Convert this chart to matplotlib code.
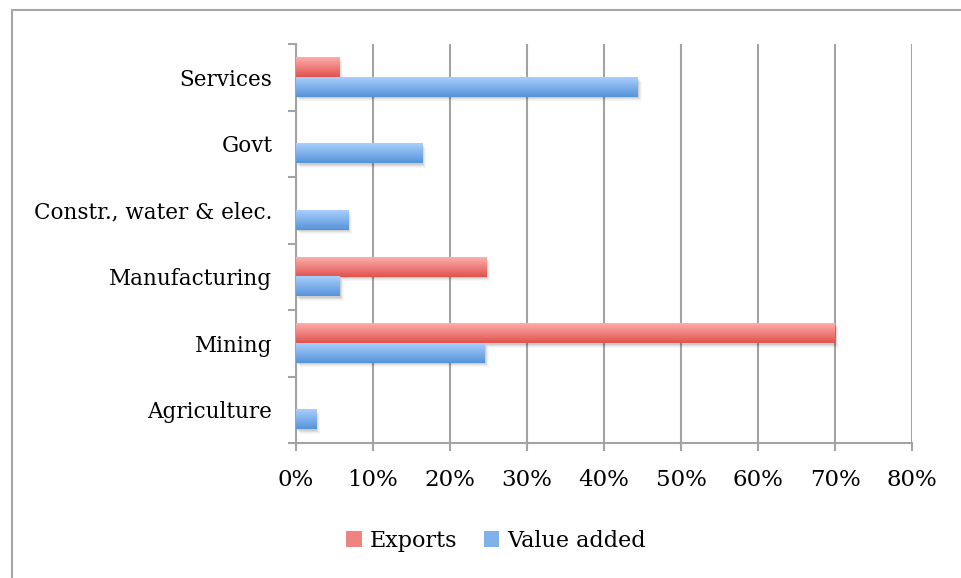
import numpy as np
import matplotlib
matplotlib.use("Agg")
import matplotlib.pyplot as plt
from matplotlib.patches import Rectangle, Patch
from matplotlib.transforms import ScaledTranslation
from matplotlib.colors import LinearSegmentedColormap

# Data (bottom to top, as drawn)
categories = ["Agriculture", "Mining", "Manufacturing",
              "Constr., water & elec.", "Govt", "Services"]
exports = [0.0, 70.0, 24.7, 0.0, 0.0, 5.6]
value_added = [2.6, 24.5, 5.7, 6.8, 16.4, 44.4]
series_names = ["Exports", "Value added"]
x_ticks = [0, 10, 20, 30, 40, 50, 60, 70, 80]

RED_TOP, RED_BOT = "#fdaeab", "#e0534e"
BLUE_TOP, BLUE_BOT = "#a9cffc", "#5593da"
GRID = "#a3a3a3"
BAR_H = 0.293

plt.rcParams["font.family"] = ["DejaVu Serif"]

fig = plt.figure(figsize=(9.62, 5.78), dpi=100)
ax = fig.add_axes([296 / 962, 1 - 443 / 578, (912 - 296) / 962, (443 - 44) / 578])

grad = np.linspace(0, 1, 64).reshape(-1, 1)


def gradient_bar(y_center, width, top, bottom):
    if width <= 0:
        return
    y0, y1 = y_center - BAR_H / 2, y_center + BAR_H / 2
    # soft drop shadow
    for i, a in enumerate([0.08, 0.06, 0.04, 0.03]):
        off = ScaledTranslation((1 + i) / 100, -(1.5 + i) / 100, fig.dpi_scale_trans)
        ax.add_patch(Rectangle((0, y0), width, BAR_H, facecolor="black",
                               alpha=a, edgecolor="none",
                               transform=ax.transData + off, zorder=2))
    cmap = LinearSegmentedColormap.from_list("g", [top, bottom])
    ax.imshow(grad, cmap=cmap, extent=[0, width, y0, y1], aspect="auto",
              interpolation="bilinear", origin="upper", zorder=3)


y = np.arange(len(categories))
for yi, e, v in zip(y, exports, value_added):
    gradient_bar(yi + BAR_H / 2, e, RED_TOP, RED_BOT)
    gradient_bar(yi - BAR_H / 2, v, BLUE_TOP, BLUE_BOT)

ax.set_xlim(0, 80)
ax.set_ylim(-0.5, len(categories) - 0.5)

ax.set_xticks(x_ticks)
ax.set_xticklabels([f"{t}%" for t in x_ticks])
ax.set_yticks(y)
ax.set_yticklabels(categories)
ax.set_yticks(np.arange(-0.5, len(categories)), minor=True)

ax.tick_params(axis="y", which="major", length=0, pad=17, labelsize=15.5)
ax.tick_params(axis="y", which="minor", length=6, width=1.5, color=GRID)
ax.tick_params(axis="x", length=6, width=1.5, color=GRID, pad=13, labelsize=16.5)

ax.grid(axis="x", color=GRID, linewidth=1.5, zorder=1)
ax.set_axisbelow(True)
for s in ["top", "right"]:
    ax.spines[s].set_visible(False)
for s in ["left", "bottom"]:
    ax.spines[s].set_color(GRID)
    ax.spines[s].set_linewidth(1.5)

handles = [Patch(facecolor="#ee8380", edgecolor="none"),
           Patch(facecolor="#7fb1ec", edgecolor="none")]
fig.legend(handles, series_names, loc="center", ncol=2,
           bbox_to_anchor=(496 / 962, 1 - 541 / 578), frameon=False,
           fontsize=16, handlelength=0.7, handleheight=0.7,
           handletextpad=0.35, columnspacing=1.2)

# outer chart frame (only top and left edges visible)
fig.patches.append(Rectangle((12 / 962, -0.1), 2, 1.1 - 10 / 578,
                             transform=fig.transFigure, fill=False,
                             edgecolor="#a6a6a6", linewidth=1.5))

fig.savefig("out.png", dpi=100)
